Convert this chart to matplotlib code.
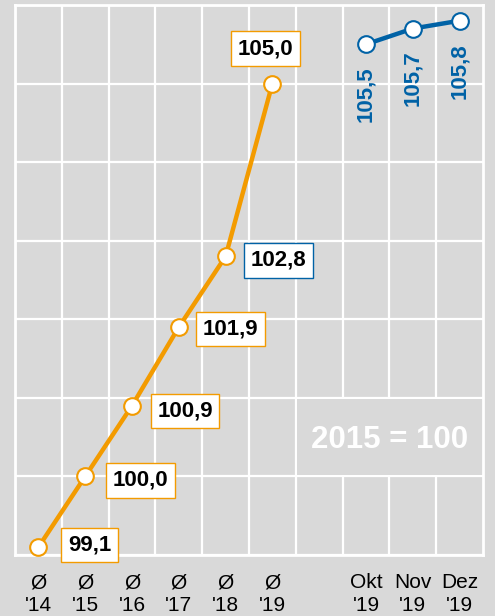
import matplotlib
matplotlib.use("Agg")
import matplotlib.pyplot as plt
from matplotlib.patches import Rectangle

# data
years = ["Ø\n'14", "Ø\n'15", "Ø\n'16", "Ø\n'17", "Ø\n'18", "Ø\n'19"]
year_vals = [99.1, 100.0, 100.9, 101.9, 102.8, 105.0]
months = ["Okt\n'19", "Nov\n'19", "Dez\n'19"]
month_vals = [105.5, 105.7, 105.8]
base_note = "2015 = 100"

orange = "#f39b00"
blue = "#0062a6"
bg = "#d9d9d9"

plt.rcParams['font.family'] = ['Liberation Sans', 'DejaVu Sans']

fig = plt.figure(figsize=(4.95, 6.16), dpi=100, facecolor=bg)
ax = fig.add_axes([15 / 495, 61 / 616, 468 / 495, 550 / 616])
ax.set_facecolor(bg)

x_years = list(range(len(years)))
x_months = [len(years) + 1 + i for i in range(len(months))]

ax.set_xlim(-0.5, x_months[-1] + 0.5)
ax.set_ylim(99, 106)
ax.set_xticks(x_years + x_months)
ax.set_xticklabels(years + months, fontsize=15, linespacing=1.25)
ax.set_xticks([v - 0.5 for v in range(x_months[-1] + 1)], minor=True)
ax.set_yticks(range(99, 107))
ax.tick_params(axis='both', which='both', length=0, pad=13)
ax.tick_params(axis='y', labelleft=False)
ax.grid(True, which='minor', axis='x', color='white', lw=1.6, zorder=0)
ax.grid(True, which='major', axis='y', color='white', lw=1.6, zorder=0)
ax.grid(False, which='major', axis='x')
ax.set_axisbelow(True)
for s in ax.spines.values():
    s.set_color('white')
    s.set_linewidth(2)

# box hiding the grid behind the base note
ax.add_patch(Rectangle((len(years) - 0.5 + 0.03, 100.02), 4 - 0.06, 0.96,
                       facecolor=bg, edgecolor='none', zorder=1))
ax.text(x_months[1] - 0.5, 100.47, base_note, color='white', fontsize=22.5,
        fontweight='bold', ha='center', va='center', zorder=2)

ax.plot(x_years, year_vals, color=orange, lw=3.2, marker='o', ms=12,
        mfc='white', mec=orange, mew=1.5, zorder=4, clip_on=False)
ax.plot(x_months, month_vals, color=blue, lw=3.2, marker='o', ms=12,
        mfc='white', mec=blue, mew=1.5, zorder=4, clip_on=False)

label_offsets = [(51, 2), (55, -4), (53, -5), (52, -2), (53, -4), (-7, 35)]
box_edges = [orange, orange, orange, orange, blue, orange]
for xv, yv, off, ec in zip(x_years, year_vals, label_offsets, box_edges):
    ax.annotate(f"{yv:.1f}".replace('.', ','), (xv, yv), xytext=off,
                textcoords='offset pixels', ha='center', va='center',
                fontsize=16, fontweight='bold', zorder=5,
                bbox=dict(boxstyle='square,pad=0.3', fc='white', ec=ec, lw=1))

for xv, yv in zip(x_months, month_vals):
    ax.annotate(f"{yv:.1f}".replace('.', ','), (xv, yv), xytext=(0, -50),
                textcoords='offset pixels', ha='center', va='center',
                rotation=90, fontsize=16, fontweight='bold', color=blue, zorder=5)

fig.savefig("out.png", dpi=100, facecolor=bg)
